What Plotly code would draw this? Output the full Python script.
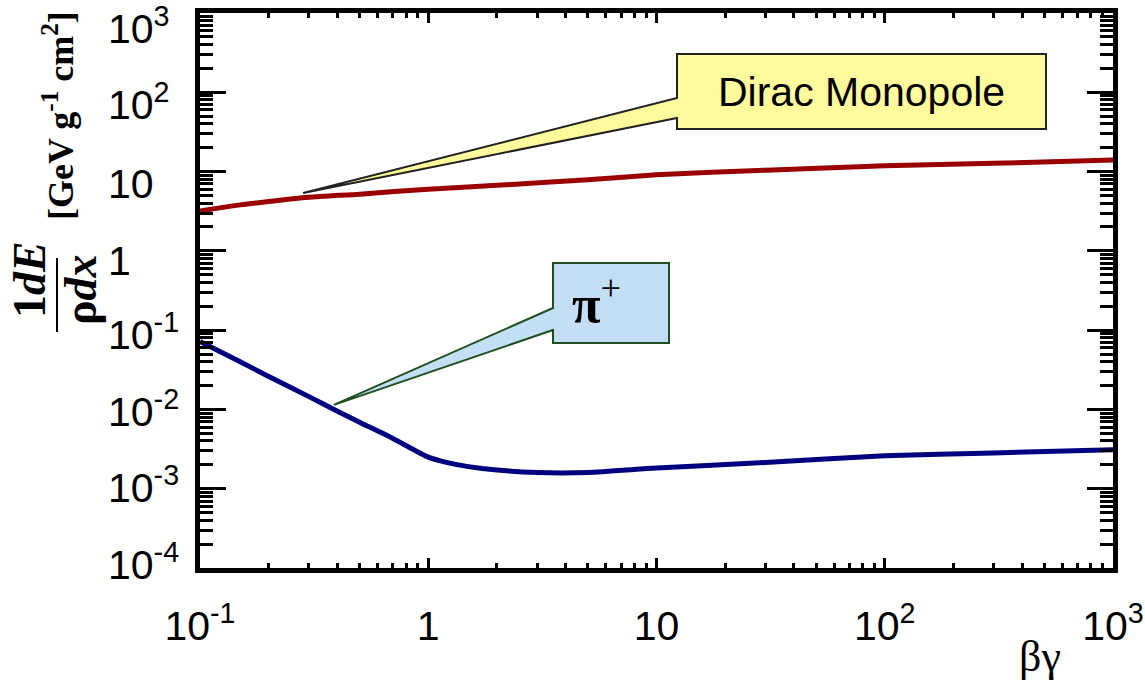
import math
import plotly.graph_objects as go

# Energy loss per unit mass thickness vs beta*gamma
bg_monopole = [0.1, 0.15, 0.2, 0.3, 0.5, 1, 2, 5, 10, 30, 100, 300, 1000]
dedx_monopole = [3.18, 3.8, 4.2, 4.74, 5.19, 6.0, 6.7, 7.9, 9.1, 10.4, 11.8, 12.7, 14.0]

bg_pion = [0.1, 0.15, 0.2, 0.3, 0.4, 0.5, 0.7, 1, 1.2, 1.5, 2, 3, 5, 10, 30, 100, 300, 1000]
dedx_pion = [0.072, 0.040, 0.026, 0.0145, 0.0095, 0.0069, 0.0043, 0.0025, 0.00215, 0.0019,
             0.00172, 0.0016, 0.0016, 0.00182, 0.00214, 0.0026, 0.00283, 0.0031]

x_tick_vals = [0.1, 1, 10, 100, 1000]
x_tick_text = ["10<sup>-1</sup>", "1", "10", "10<sup>2</sup>", "10<sup>3</sup>"]
y_tick_exps = [3, 2, 1, 0, -1, -2, -3, -4]
y_tick_text = ["10<sup>3</sup>", "10<sup>2</sup>", "10", "1",
               "10<sup>-1</sup>", "10<sup>-2</sup>", "10<sup>-3</sup>", "10<sup>-4</sup>"]

X_RANGE = (-1, 3)   # log10
Y_RANGE = (-4, 3)   # log10

W, H = 1145, 685
ML, MR, MT, MB = 200, 32, 13, 117
PW, PH = W - ML - MR, H - MT - MB


def px(xpix):
    return (xpix - ML) / PW


def py(ypix):
    return (H - MB - ypix) / PH


def data_to_paper(x, y):
    return ((math.log10(x) - X_RANGE[0]) / (X_RANGE[1] - X_RANGE[0]),
            (math.log10(y) - Y_RANGE[0]) / (Y_RANGE[1] - Y_RANGE[0]))


fig = go.Figure()
fig.add_trace(go.Scatter(x=bg_monopole, y=dedx_monopole, mode="lines",
                         line=dict(color="#9B0000", width=5, shape="spline", smoothing=0.6),
                         name="Dirac Monopole", showlegend=False))
fig.add_trace(go.Scatter(x=bg_pion, y=dedx_pion, mode="lines",
                         line=dict(color="#00007F", width=5, shape="spline", smoothing=0.6),
                         name="pi+", showlegend=False))

axis_common = dict(showline=True, linecolor="black", linewidth=5, mirror="ticks",
                   ticks="inside", tickcolor="black", tickwidth=3, showgrid=False,
                   zeroline=False, automargin=False)

fig.update_xaxes(type="log", range=list(X_RANGE), tickvals=x_tick_vals, ticktext=x_tick_text,
                 ticklen=10, ticklabelstandoff=18,
                 tickfont=dict(family="Liberation Sans, Arial", size=41, color="black"),
                 minor=dict(ticks="inside", ticklen=5, dtick="D1", tickcolor="black",
                            tickwidth=3, showgrid=False),
                 **axis_common)
fig.update_yaxes(type="log", range=list(Y_RANGE), dtick=1, showticklabels=False,
                 ticklen=26,
                 minor=dict(ticks="inside", ticklen=13, dtick="D1", tickcolor="black",
                            tickwidth=3, showgrid=False),
                 **axis_common)

shapes = []
annotations = []

# Callout for the monopole curve (box plus pointer as one outline)
mx0, mx1, my0, my1 = px(677), px(1046), py(54), py(129)
m_att_hi, m_att_lo = py(98), py(118)
m_tip = data_to_paper(0.283, 5.37)
shapes.append(dict(type="path", xref="paper", yref="paper",
                   path=(f"M {mx0} {my0} L {mx1} {my0} L {mx1} {my1} L {mx0} {my1} "
                         f"L {mx0} {m_att_lo} L {m_tip[0]} {m_tip[1]} L {mx0} {m_att_hi} Z"),
                   fillcolor="#FFFA9C", line=dict(color="#222222", width=2), layer="above"))
annotations.append(dict(xref="paper", yref="paper", x=(mx0 + mx1) / 2, y=(my0 + my1) / 2,
                        text="Dirac Monopole", showarrow=False, xanchor="center",
                        yanchor="middle",
                        font=dict(family="Liberation Sans, Arial", size=41, color="black")))

# Callout for the pion curve
bx0, bx1, by0, by1 = px(553), px(669), py(263), py(343)
p_att_hi, p_att_lo = py(308), py(330)
p_tip = data_to_paper(0.386, 0.0114)
shapes.append(dict(type="path", xref="paper", yref="paper",
                   path=(f"M {bx0} {by0} L {bx1} {by0} L {bx1} {by1} L {bx0} {by1} "
                         f"L {bx0} {p_att_lo} L {p_tip[0]} {p_tip[1]} L {bx0} {p_att_hi} Z"),
                   fillcolor="#C4DEF6", line=dict(color="#1F4F1F", width=2), layer="above"))
annotations.append(dict(xref="paper", yref="paper", x=px(596), y=py(300),
                        text="<b>π</b><sup>+</sup>", showarrow=False, xanchor="center",
                        yanchor="middle",
                        font=dict(family="Liberation Serif, Times New Roman", size=52,
                                  color="black")))

# Y tick labels, left aligned
for e, t in zip(y_tick_exps, y_tick_text):
    lift = 5 if "<sup>" in t else 0
    annotations.append(dict(xref="paper", yref="y", x=px(106), y=e, text=t,
                            showarrow=False, xanchor="left", yanchor="middle",
                            yshift=lift - (2.7 * (e + 4) - 1),
                            font=dict(family="Liberation Sans, Arial", size=41,
                                      color="black")))

# Y axis title: (1/rho) dE/dx [GeV g^-1 cm^2]
serif = "Liberation Serif, Times New Roman"
annotations.append(dict(xref="paper", yref="paper", x=px(29), y=py(280),
                        text="<b>1<i>dE</i></b>", textangle=-90, showarrow=False,
                        xanchor="center", yanchor="middle",
                        font=dict(family=serif, size=46, color="black")))
annotations.append(dict(xref="paper", yref="paper", x=px(80), y=py(290),
                        text="<b>ρ<i>dx</i></b>", textangle=-90, showarrow=False,
                        xanchor="center", yanchor="middle",
                        font=dict(family=serif, size=46, color="black")))
shapes.append(dict(type="line", xref="paper", yref="paper", x0=px(57), x1=px(57),
                   y0=py(258), y1=py(332), line=dict(color="black", width=2)))
annotations.append(dict(xref="paper", yref="paper", x=px(58), y=py(116),
                        text="<b>[GeV g<sup>-1</sup> cm<sup>2</sup>]</b>", textangle=-90,
                        showarrow=False, xanchor="center", yanchor="middle",
                        font=dict(family=serif, size=36, color="black")))

# X axis title
annotations.append(dict(xref="paper", yref="paper", x=px(1040), y=py(656),
                        text="βγ", showarrow=False, xanchor="center", yanchor="middle",
                        font=dict(family=serif, size=44, color="black")))

fig.update_layout(width=W, height=H, margin=dict(l=ML, r=MR, t=MT, b=MB),
                  paper_bgcolor="white", plot_bgcolor="white",
                  shapes=shapes, annotations=annotations, showlegend=False)

fig.write_html("out.html")
